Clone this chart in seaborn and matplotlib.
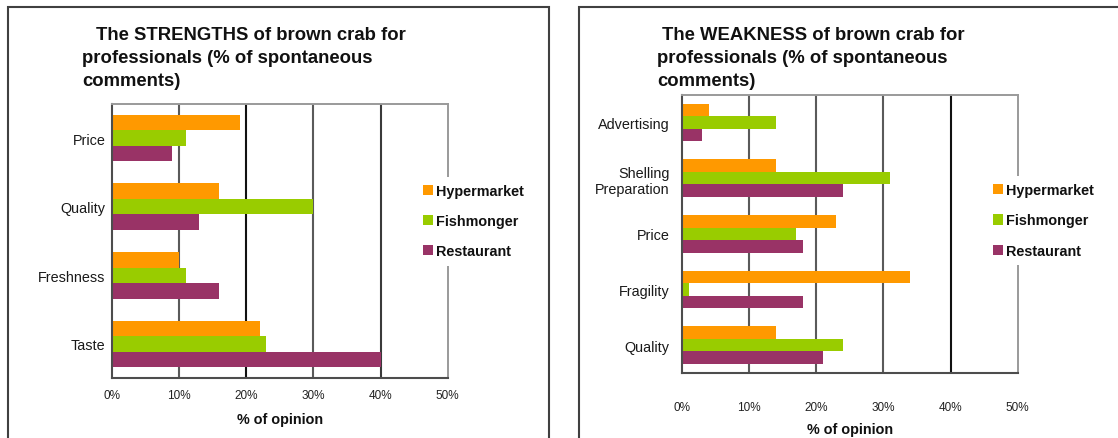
import numpy as np
import pandas as pd
import matplotlib
matplotlib.use("Agg")
import matplotlib.pyplot as plt
from matplotlib.patches import Rectangle
import seaborn as sns

# ---- data (% of spontaneous comments) ----
channels = ["Hypermarket", "Fishmonger", "Restaurant"]
channel_colors = ["#FF9900", "#99CC00", "#993366"]

strength_categories = ["Price", "Quality", "Freshness", "Taste"]
strength_hypermarket = [19, 16, 10, 22]
strength_fishmonger = [11, 30, 11, 23]
strength_restaurant = [9, 13, 16, 40]

weakness_categories = ["Advertising", "Shelling\nPreparation", "Price", "Fragility", "Quality"]
weakness_hypermarket = [4, 14, 23, 34, 14]
weakness_fishmonger = [14, 31, 17, 1, 24]
weakness_restaurant = [3, 24, 18, 18, 21]

x_ticks = [0, 10, 20, 30, 40, 50]
x_tick_labels = ["0%", "10%", "20%", "30%", "40%", "50%"]

title_strengths = ["The STRENGTHS of brown crab for",
                   "professionals (% of spontaneous",
                   "comments)"]
title_weakness = ["The WEAKNESS of brown crab for",
                  "professionals (% of spontaneous",
                  "comments)"]
x_title = "% of opinion"


def long_table(categories, hyper, fish, rest):
    rows = []
    for name, vals in zip(channels, [hyper, fish, rest]):
        for cat, v in zip(categories, vals):
            rows.append({"attribute": cat, "channel": name, "value": v})
    return pd.DataFrame(rows)


sns.set_style("white")
plt.rcParams["font.family"] = ["Liberation Sans", "DejaVu Sans"]

W, H = 1118, 439
fig = plt.figure(figsize=(W / 100, H / 100), dpi=100)
fig.patch.set_facecolor("white")


def px(x, y):
    return x / W, 1 - y / H


def draw_panel(rect, df, categories, grid_colors, ylab_pad, xlab_pad, xlabel_y, legend_anchor):
    ax = fig.add_axes(rect)
    sns.barplot(data=df, x="value", y="attribute", hue="channel",
                order=categories, hue_order=channels, palette=channel_colors,
                orient="h", width=0.68, saturation=1, linewidth=0, ax=ax,
                errorbar=None)
    ax.set_xlim(0, 50)
    ax.set_xticks(x_ticks)
    ax.set_xticklabels(x_tick_labels)
    ax.set_ylabel("")
    ax.set_xlabel(x_title, fontsize=10.4, fontweight="bold", color="#111111")
    ax.xaxis.set_label_coords(0.5, xlabel_y)

    # vertical gridlines behind the bars
    for xv, c in zip(ax.get_xticks()[1:-1], grid_colors):
        ax.axvline(xv, color=c, lw=1.5, zorder=0.5)

    for side in ["left", "bottom"]:
        ax.spines[side].set_color("#4d4d4d")
        ax.spines[side].set_linewidth(1.5)
    for side in ["top", "right"]:
        ax.spines[side].set_color("#9a9a9a")
        ax.spines[side].set_linewidth(1.4)

    n = len(categories)
    ax.set_yticks(np.arange(-0.5, n, 1.0), minor=True)
    ax.tick_params(axis="y", which="major", length=0, pad=ylab_pad,
                   labelsize=10.4, labelcolor="#1a1a1a")
    ax.tick_params(axis="y", which="minor", length=3, width=1.2,
                   color="#4d4d4d", direction="out")
    ax.tick_params(axis="x", which="major", length=4, width=1.2,
                   color="#4d4d4d", direction="out", pad=xlab_pad,
                   labelsize=8.5, labelcolor="#222222")

    handles, labels = ax.get_legend_handles_labels()
    leg = ax.legend(handles, labels, loc="center left",
                    bbox_to_anchor=legend_anchor, bbox_transform=fig.transFigure,
                    frameon=True, facecolor="white", edgecolor="none",
                    framealpha=1, fancybox=False,
                    prop={"size": 10.4, "weight": "bold"},
                    handlelength=0.7, handleheight=0.7, handletextpad=0.2,
                    labelspacing=1.12, borderpad=0.5, borderaxespad=0)
    for t in leg.get_texts():
        t.set_color("#111111")
    return ax


df_strength = long_table(strength_categories, strength_hypermarket,
                         strength_fishmonger, strength_restaurant)
df_weakness = long_table(weakness_categories, weakness_hypermarket,
                         weakness_fishmonger, weakness_restaurant)

draw_panel([112 / W, 1 - 379.3 / H, 335.7 / W, 274.6 / H], df_strength,
           strength_categories, ["#5a5a5a", "#111111", "#5a5a5a", "#3a3a3a"],
           ylab_pad=4.7, xlab_pad=3.6, xlabel_y=-0.123,
           legend_anchor=(416 / W, 1 - 222.3 / H))

draw_panel([682 / W, 1 - 374 / H, 335.7 / W, 278.3 / H], df_weakness,
           weakness_categories, ["#5a5a5a", "#5a5a5a", "#5a5a5a", "#111111"],
           ylab_pad=8.9, xlab_pad=16, xlabel_y=-0.176,
           legend_anchor=(986 / W, 1 - 221.5 / H))

# panel titles
baselines = [39.5, 63, 86.5]
for i, line in enumerate(title_strengths):
    x0 = 96 if i == 0 else 82
    fig.text(*px(x0, baselines[i]), line, fontsize=13.3, fontweight="bold",
             color="#111111", ha="left", va="baseline")
for i, line in enumerate(title_weakness):
    x0 = 662 if i == 0 else 657
    fig.text(*px(x0, baselines[i]), line, fontsize=13.3, fontweight="bold",
             color="#111111", ha="left", va="baseline")

# panel frames
for x_left, x_right, y_top in [(7.5, 549.3, 7.5), (579.3, 1130, 8)]:
    x0, y1 = px(x_left, y_top)
    x1, _ = px(x_right, 0)
    fig.add_artist(Rectangle((x0, -0.2), x1 - x0, y1 + 0.2,
                             transform=fig.transFigure, fill=False,
                             edgecolor="#404040", linewidth=1.5))

fig.savefig("out.png", dpi=100, facecolor="white")
